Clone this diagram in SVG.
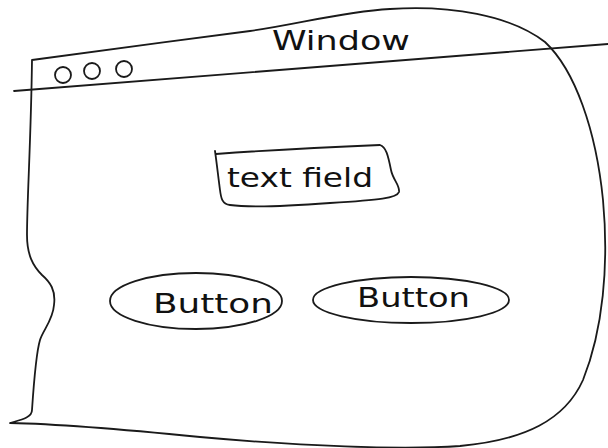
<svg xmlns="http://www.w3.org/2000/svg" width="608" height="448" viewBox="0 0 608 448">
<style>
.ln{fill:none;stroke:#1a1a1a;stroke-width:1.8;stroke-linecap:round;stroke-linejoin:round}
.tx{font-family:"DejaVu Sans","Liberation Sans",sans-serif;fill:#111;font-size:27px}
</style>
<rect width="608" height="448" fill="#fff"/>
<g id="window">
<path class="ln" d="M32,60 C90,52 180,40 250,31 C300,24 340,12 390,9 C450,5 510,15 545,42 C575,70 596,130 603,200 C609,265 603,330 583,380 C565,420 525,440 460,446 C400,450 300,446 200,437 C130,430 60,424 10,423 C20,420 32,418 32,410 C34,380 37,350 40,340 C43,330 53,320 54,305 C56,290 50,282 42,275 C33,266 27,255 27,235 C27,200 31,140 32,60 Z"/>
<path class="ln" d="M14,91 C200,76 400,61 608,44"/>
<circle class="ln" cx="63" cy="75" r="8"/>
<circle class="ln" cx="92" cy="71" r="8"/>
<circle class="ln" cx="124" cy="69" r="8"/>
<text class="tx" x="272" y="50" textLength="138" lengthAdjust="spacingAndGlyphs">Window</text>
</g>
<g id="textfield">
<path class="ln" d="M216,154 C270,150 330,147 380,145 C386,147 388,155 391,170 C393,180 400,185 399,192 C397,198 380,200 330,203 C290,206 250,208 230,205 C222,204 221,198 220,190 C218,175 217,165 215,151"/>
<text class="tx" x="227" y="187" font-size="28" textLength="146" lengthAdjust="spacingAndGlyphs">text field</text>
</g>
<g id="button1">
<ellipse class="ln" cx="196" cy="301" rx="86" ry="28"/>
<text class="tx" x="153" y="313" textLength="120" lengthAdjust="spacingAndGlyphs">Button</text>
</g>
<g id="button2">
<ellipse class="ln" cx="411" cy="300" rx="98" ry="23"/>
<text class="tx" x="357" y="307" textLength="113" lengthAdjust="spacingAndGlyphs">Button</text>
</g>
<g id="connectors"/>
</svg>
